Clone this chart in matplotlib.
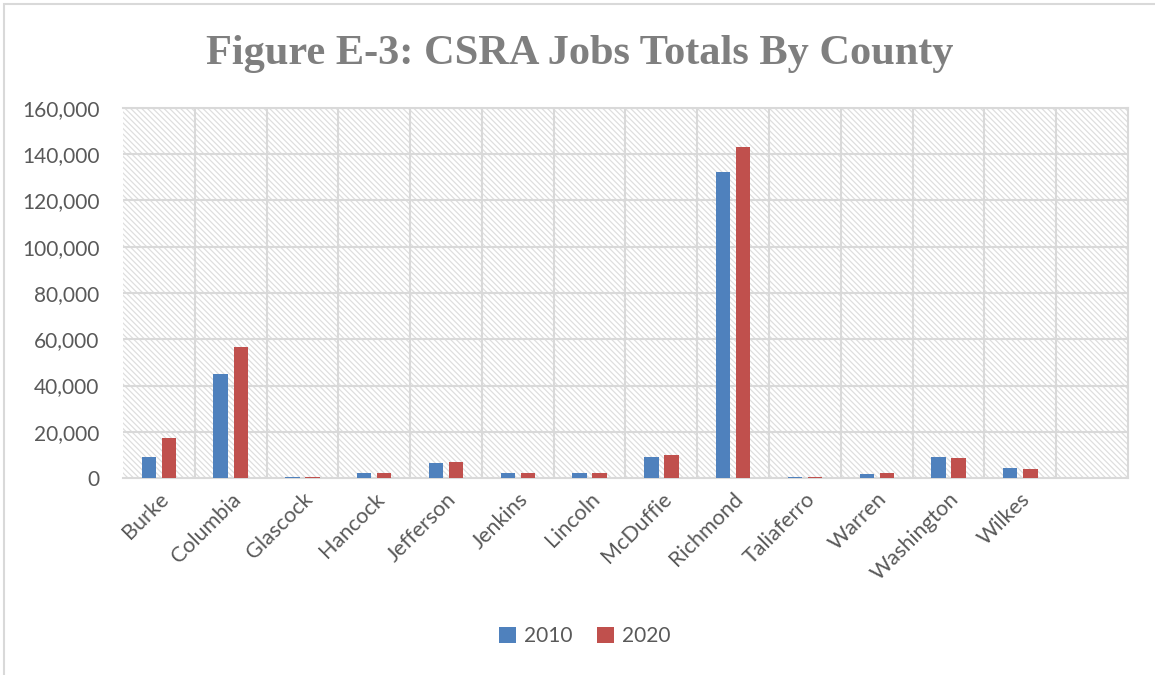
import numpy as np
import matplotlib.pyplot as plt
from matplotlib.patches import Rectangle
from matplotlib.ticker import FuncFormatter

# jobs by county, 2010 vs 2020
counties = ['Burke', 'Columbia', 'Glascock', 'Hancock', 'Jefferson', 'Jenkins',
            'Lincoln', 'McDuffie', 'Richmond', 'Taliaferro', 'Warren',
            'Washington', 'Wilkes']
jobs_2010 = [9000, 45000, 600, 2200, 6700, 2000, 2000, 9200, 132300, 300, 1600, 8900, 4200]
jobs_2020 = [17300, 56600, 600, 2200, 7100, 2300, 2100, 9900, 143000, 400, 2200, 8800, 3900]
n_slots = 14  # one empty slot at the end of the axis

blue = '#4f81bd'
red = '#c0504d'
grid_c = '#d9d9d9'
text_c = '#595959'
hatch_c = '#dedede'

plt.rcParams['font.family'] = ['Lato', 'DejaVu Sans']
plt.rcParams['hatch.color'] = hatch_c
plt.rcParams['hatch.linewidth'] = 0.9

fig = plt.figure(figsize=(11.55, 6.75), dpi=100)
ax = fig.add_axes([123 / 1155, 1 - 478 / 675, 1005 / 1155, 370 / 675])
ax.set_facecolor('none')

# outer chart frame (only left/top edges fall inside the image)
fig.patches.append(Rectangle((4 / 1155, -0.1), 1.2, (671 / 675) + 0.1,
                             transform=fig.transFigure, fill=False,
                             edgecolor=grid_c, linewidth=1.5))

# hatched plot area
ax.add_patch(Rectangle((0, 0), 1, 1, transform=ax.transAxes, facecolor='white',
                       hatch='\\\\\\\\\\\\', edgecolor=hatch_c, linewidth=0, zorder=0))

x = np.arange(len(counties))
ax.bar(x - 0.14, jobs_2010, width=0.2, color=blue, label='2010', zorder=3)
ax.bar(x + 0.14, jobs_2020, width=0.2, color=red, label='2020', zorder=3)

ax.set_xlim(-0.5, n_slots - 0.5)
ax.set_ylim(0, 160000)
ax.set_yticks(np.arange(0, 160001, 20000))
ax.yaxis.set_major_formatter(FuncFormatter(lambda v, p: f'{int(v):,}'))
ax.set_xticks(x)
ax.set_xticklabels(counties, rotation=45, ha='right', va='top',
                   rotation_mode='anchor')

# gridlines: horizontal at ticks, vertical at category boundaries
for yv in np.arange(20000, 160001, 20000):
    ax.axhline(yv, color=grid_c, linewidth=1.5, zorder=1)
for xv in np.arange(0.5, n_slots - 0.5, 1):
    ax.axvline(xv, color=grid_c, linewidth=1.5, zorder=1)

for side in ['top', 'right', 'left', 'bottom']:
    ax.spines[side].set_color(grid_c)
    ax.spines[side].set_linewidth(1.5)
ax.spines['left'].set_visible(False)

ax.tick_params(axis='both', length=0, labelcolor=text_c)
ax.tick_params(axis='y', pad=17, labelsize=15)
ax.tick_params(axis='x', pad=8, labelsize=15.5)

fig.text(0.502, 1 - 54 / 675, 'Figure E-3: CSRA Jobs Totals By County',
         ha='center', va='center', fontsize=30.5, fontweight='bold',
         color='#7f7f7f', family=['Liberation Serif'])

fig.legend(loc='center', bbox_to_anchor=(585 / 1155, 1 - 636 / 675), ncol=2,
           frameon=False, fontsize=15, labelcolor=text_c, handlelength=0.8,
           handleheight=0.8, handletextpad=0.4, columnspacing=1.2)

fig.savefig('out.png', dpi=100, facecolor='white')
